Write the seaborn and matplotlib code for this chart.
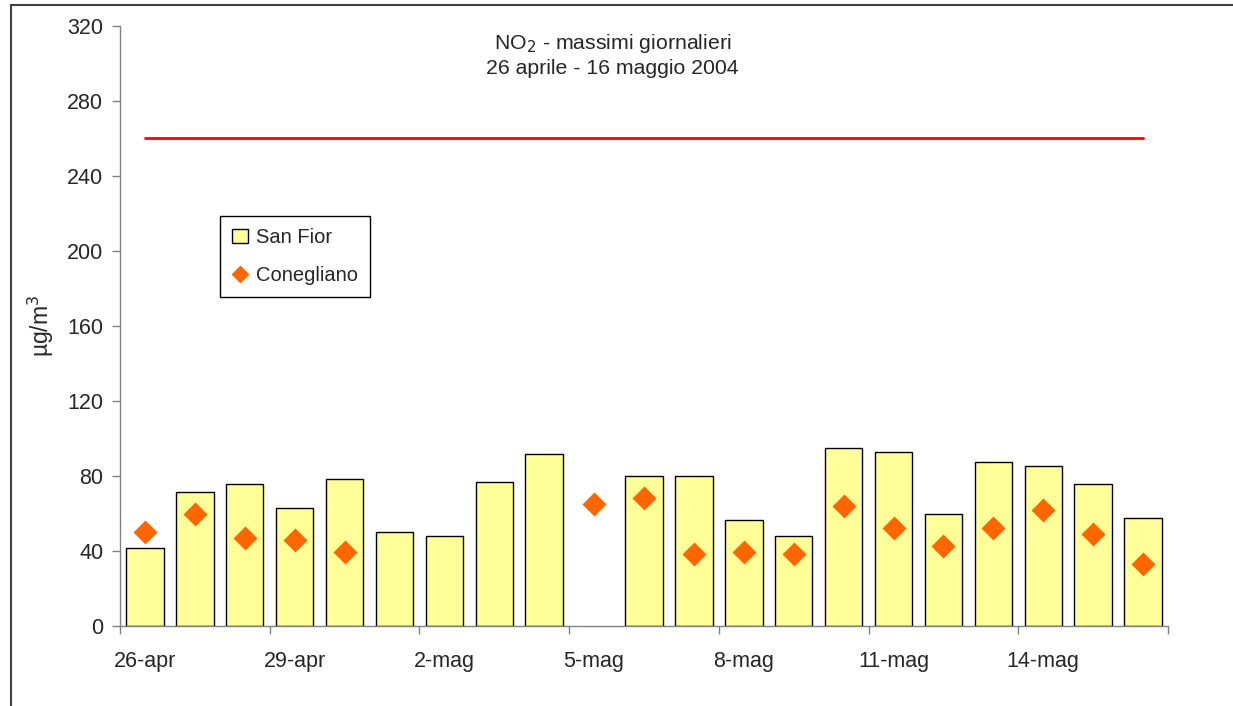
import matplotlib
matplotlib.use("Agg")
import matplotlib.pyplot as plt
from matplotlib.patches import Patch
from matplotlib.lines import Line2D
import seaborn as sns
import pandas as pd
import numpy as np

# Data
days = ["26-apr", "27-apr", "28-apr", "29-apr", "30-apr", "1-mag", "2-mag",
        "3-mag", "4-mag", "5-mag", "6-mag", "7-mag", "8-mag", "9-mag",
        "10-mag", "11-mag", "12-mag", "13-mag", "14-mag", "15-mag", "16-mag"]
san_fior = [41.6, 71.6, 75.9, 62.9, 78.6, 50.0, 47.8, 76.6, 91.6, np.nan,
            80.0, 80.0, 56.4, 47.8, 95.1, 93.0, 59.6, 87.3, 85.2, 75.9, 57.4]
conegliano = [50.3, 59.7, 47.1, 46.0, 39.5, np.nan, np.nan, np.nan, np.nan, 65.0,
              68.3, 38.6, 39.6, 38.6, 64.0, 52.3, 42.7, 52.3, 61.9, 49.1, 33.1]
limit = [260] * len(days)
y_ticks = [0, 40, 80, 120, 160, 200, 240, 280, 320]

df = pd.DataFrame({"day": days, "san_fior": san_fior,
                   "conegliano": conegliano, "limit": limit})

sns.set_style("white")
plt.rcParams["font.family"] = ["Liberation Sans", "DejaVu Sans"]

fig = plt.figure(figsize=(12.33, 7.06), dpi=100)
ax = fig.add_axes([0.0973, 0.1133, 0.8500, 0.8499])

# bars - San Fior
sns.barplot(data=df, x="day", y="san_fior", color="#FFFF99", saturation=1,
            edgecolor="black", linewidth=1, width=0.75, ax=ax)

# diamonds - Conegliano
sns.pointplot(data=df, x="day", y="conegliano", color="#FF6600",
              linestyle="none", markers="D", markersize=10.5, ax=ax)

# limit line
sns.lineplot(x=np.arange(len(days)), y=df["limit"], color="red",
             linewidth=2, ax=ax)

ax.set_xlim(-0.5, len(days) - 0.5)
ax.set_ylim(0, 320)
ax.set_yticks(y_ticks)
ax.set_yticklabels([str(t) for t in y_ticks], fontsize=15.5)

# labels every third day, tick marks at the group edges
label_pos = np.arange(0, len(days), 3)
ax.set_xticks(label_pos)
ax.set_xticklabels([days[i] for i in label_pos], fontsize=15.5)
ax.set_xticks(np.arange(-0.5, len(days), 3), minor=True)
ax.tick_params(axis="x", which="major", length=0, pad=18)
ax.tick_params(axis="x", which="minor", length=6, width=1, color="#808080",
               direction="out", bottom=True)
ax.tick_params(axis="y", length=6, width=1, color="#808080",
               direction="out", left=True, pad=6)

ax.set_xlabel("")
ax.set_ylabel("µg/m$^3$", fontsize=16.5, labelpad=8)

for side in ["top", "right"]:
    ax.spines[side].set_visible(False)
for side in ["left", "bottom"]:
    ax.spines[side].set_color("#808080")
    ax.spines[side].set_linewidth(1)

# title
ax.text(0.47, 0.99, "NO$_2$ - massimi giornalieri\n26 aprile - 16 maggio 2004",
        transform=ax.transAxes, ha="center", va="top", fontsize=15.3,
        linespacing=1.3)

# legend
handles = [Patch(facecolor="#FFFF99", edgecolor="black", label="San Fior"),
           Line2D([], [], marker="D", color="#FF6600", linestyle="none",
                  markersize=8, label="Conegliano")]
leg = ax.legend(handles=handles, loc="upper left",
                bbox_to_anchor=(0.0954, 0.683), borderaxespad=0,
                fontsize=14.5, frameon=True,
                fancybox=False, framealpha=1, edgecolor="black",
                handlelength=0.8, handletextpad=0.4, borderpad=0.6,
                labelspacing=0.95)
leg.get_frame().set_linewidth(1)

# outer chart border (left and top visible)
fig.add_artist(Line2D([0.009, 0.009], [0, 0.993], color="#404040", lw=1.5,
                      transform=fig.transFigure))
fig.add_artist(Line2D([0.009, 1], [0.993, 0.993], color="#404040", lw=1.5,
                      transform=fig.transFigure))

fig.savefig("out.png", dpi=100)
